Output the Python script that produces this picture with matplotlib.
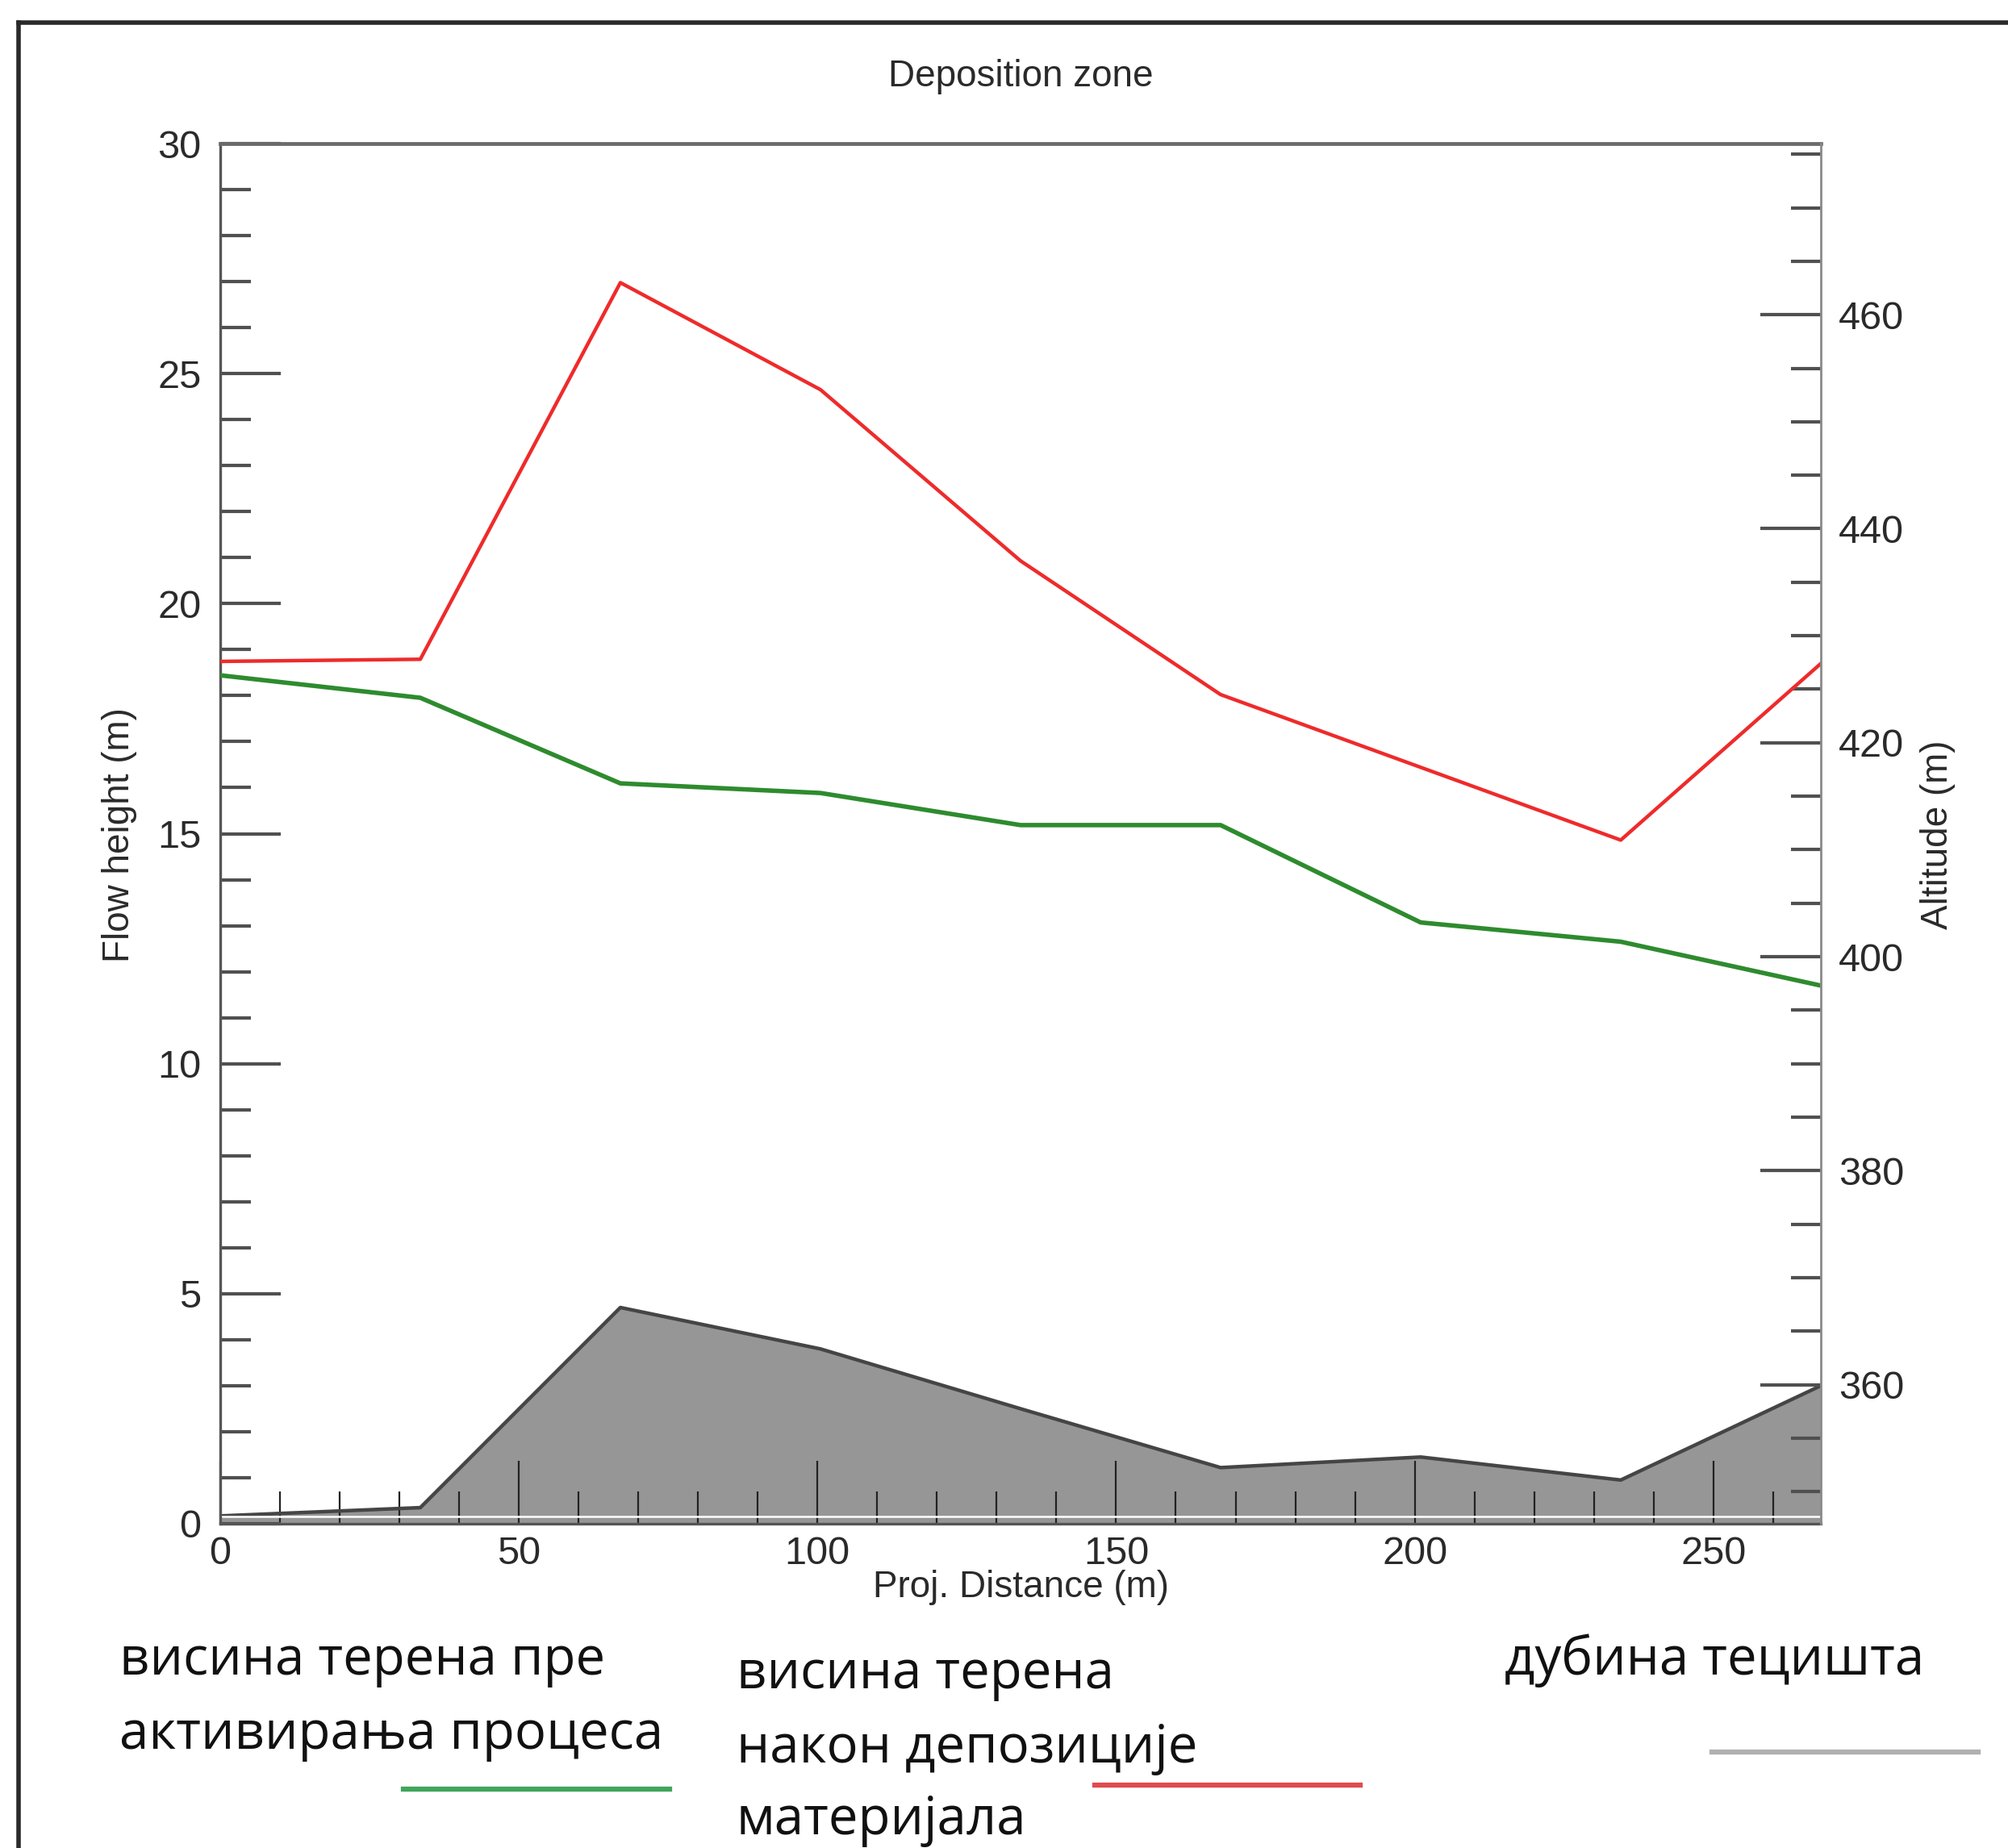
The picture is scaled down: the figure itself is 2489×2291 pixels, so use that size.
import matplotlib
matplotlib.use("Agg")
import matplotlib.pyplot as plt
from matplotlib.lines import Line2D
from matplotlib.ticker import MultipleLocator

# --- data ---
distancia = [0, 33.5, 67, 100.5, 134, 167.5, 201, 234.5, 268]
altitud_despues = [427.6, 427.8, 463.0, 453.0, 437.0, 424.5, 417.7, 410.9, 427.4]   # red
altitud_antes = [426.3, 424.2, 416.2, 415.3, 412.3, 412.3, 403.2, 401.4, 397.3]     # green
profundidad = [0.17, 0.35, 4.7, 3.8, 2.5, 1.22, 1.45, 0.95, 3.0]                  # gray fill

x_ticks = [0, 50, 100, 150, 200, 250]
izq_ticks = [0, 5, 10, 15, 20, 25, 30]
der_ticks = [360, 380, 400, 420, 440, 460]

leyenda_verde = ["висина терена пре", "активирања процеса"]
leyenda_roja = ["висина терена", "након депозиције", "материјала"]
leyenda_gris = ["дубина тецишта"]

W, H = 2489, 2291
FUENTE = ["Liberation Sans", "DejaVu Sans"]
FUENTE_CIR = ["Open Sans", "DejaVu Sans"]
GRIS_TXT = "#2a2a2a"


def fx(px):
    return px / W


def fy(py):
    return 1 - py / H


plt.rcParams["font.family"] = FUENTE

fig = plt.figure(figsize=(W / 100, H / 100), dpi=100)
ax = fig.add_axes([fx(273), fy(1889), (2257 - 273) / W, (1889 - 178) / H])
ax2 = ax.twinx()

# flow depth (left axis)
ax.fill_between(distancia, 0, profundidad, color="#969696", lw=0, zorder=1)
ax.plot(distancia, profundidad, color="#454545", lw=3.2, zorder=2)
ax.axhline(0.15, color="white", lw=1.8, zorder=2)

# terrain profiles (right axis)
ax2.plot(distancia, altitud_antes, color="#2e8b2e", lw=4.0)
ax2.plot(distancia, altitud_despues, color="#ee2b2b", lw=3.2)

ax.set_xlim(0, 268)
ax.set_ylim(0, 30)
ax2.set_ylim(347, 476)

ax.set_xticks(x_ticks)
ax.set_yticks(izq_ticks)
ax.xaxis.set_minor_locator(MultipleLocator(10))
ax.yaxis.set_minor_locator(MultipleLocator(1))
ax2.set_yticks(der_ticks)
ax2.yaxis.set_minor_locator(MultipleLocator(5))

ax.tick_params(axis="x", which="both", direction="in", color="#222222", width=1.6,
               labelsize=35, labelcolor=GRIS_TXT, pad=11, top=False)
ax.tick_params(axis="x", which="major", length=56)
ax.tick_params(axis="x", which="minor", length=29)
ax.tick_params(axis="y", which="both", direction="in", color="#505050", width=3.0,
               labelsize=35, labelcolor=GRIS_TXT, pad=17, right=False)
ax.tick_params(axis="y", which="major", length=54)
ax.tick_params(axis="y", which="minor", length=27)
ax2.tick_params(axis="y", which="both", direction="in", color="#505050", width=3.0,
                labelsize=35, labelcolor=GRIS_TXT, pad=16)
ax2.tick_params(axis="y", which="major", length=54)
ax2.tick_params(axis="y", which="minor", length=27)

for lado in ["left", "bottom"]:
    ax.spines[lado].set_color("#555555")
    ax.spines[lado].set_linewidth(2.4)
ax.spines["top"].set_color("#6a6a6a")
ax.spines["top"].set_linewidth(3.4)
ax.spines["right"].set_visible(False)
for lado in ["left", "bottom", "top"]:
    ax2.spines[lado].set_visible(False)
ax2.spines["right"].set_color("#8a8a8a")
ax2.spines["right"].set_linewidth(2.0)

# titles and axis labels
fig.text(fx(1265), fy(95), "Deposition zone", ha="center", va="center",
         fontsize=33, color=GRIS_TXT)
fig.text(fx(1265), fy(1968), "Proj. Distance (m)", ha="center", va="center",
         fontsize=33, color=GRIS_TXT)
fig.text(fx(148), fy(1035), "Flow height (m)", ha="center", va="center",
         rotation=90, fontsize=33, color=GRIS_TXT)
fig.text(fx(2402), fy(1035), "Altitude (m)", ha="center", va="center",
         rotation=90, fontsize=33, color=GRIS_TXT)

# outer frame (left and top edges)
marco = dict(color="#2a2a2a", lw=4.0, transform=fig.transFigure)
fig.add_artist(Line2D([fx(23), fx(23)], [fy(28), 0], **marco))
fig.add_artist(Line2D([fx(23), 1], [fy(28), fy(28)], **marco))

# hand-made legend in Serbian
for texto, py in zip(leyenda_verde, [2059, 2151]):
    fig.text(fx(148), fy(py), texto, ha="left", va="center", fontsize=47,
             color="#111111", family=FUENTE_CIR)
for texto, py in zip(leyenda_roja, [2076, 2168, 2257]):
    fig.text(fx(913), fy(py), texto, ha="left", va="center", fontsize=47,
             color="#111111", family=FUENTE_CIR)
fig.text(fx(1865), fy(2059), leyenda_gris[0], ha="left", va="center", fontsize=47,
         color="#111111", family=FUENTE_CIR)

fig.add_artist(Line2D([fx(500), fx(830)], [fy(2218), fy(2218)], color="#3fa55a",
                      lw=4.5, transform=fig.transFigure))
fig.add_artist(Line2D([fx(1357), fx(1686)], [fy(2213), fy(2213)], color="#e04a4f",
                      lw=4.5, transform=fig.transFigure))
fig.add_artist(Line2D([fx(2122), fx(2452)], [fy(2172), fy(2172)], color="#b0b0b0",
                      lw=4.5, transform=fig.transFigure))

fig.savefig("out.png", dpi=100, facecolor="white")
